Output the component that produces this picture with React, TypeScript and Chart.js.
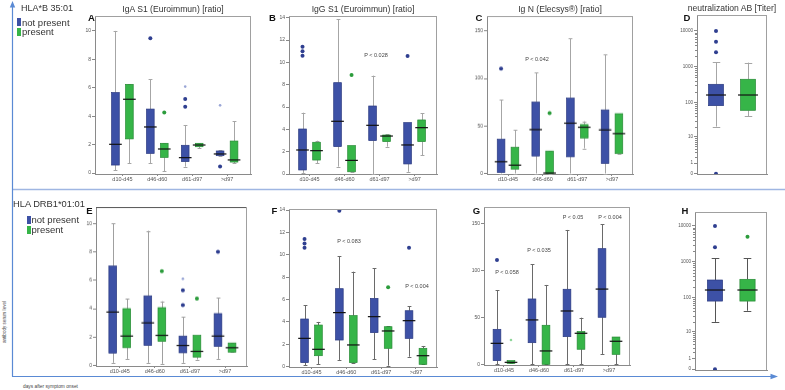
import React, { useEffect, useRef } from 'react';
import { Chart, registerables } from 'chart.js';
Chart.register(...registerables);

const FONT = '"Liberation Sans", Arial, sans-serif';
const categories = ['d10-d45', 'd46-d60', 'd61-d97', '>d97'];
const ticks10 = [0, 2, 4, 6, 8, 10];
const ticks14 = [0, 2, 4, 6, 8, 10, 12, 14];
const ticks150 = [0, 50, 100, 150];
const ticksLog = [0, 1, 10, 100, 1000, 10000];

// box stats per category: [lower whisker, Q1, median, Q3, upper whisker]
// ---- HLA*B 35:01 ----
const igaB35Absent = [[0.2, 0.56, 2.02, 5.66, 10.0], [0.68, 1.38, 3.24, 4.5, 6.6], [0.45, 0.8, 1.08, 1.95, 3.38], [1.22, 1.22, 1.34, 1.55, 1.6]];
const igaB35AbsentOut = [[], [9.48], [5.2, 4.67], [0.45]];
const igaB35AbsentExt = [[], [], [6.08], [4.76]];
const igaB35Present = [[0.68, 2.4, 5.19, 6.24, 6.24], [0.14, 1.1, 1.69, 2.09, 2.09], [1.75, 1.85, 1.97, 2.09, 2.1], [0.68, 0.77, 0.92, 2.25, 3.66]];
const igaB35PresentOut = [[], [4.25], [], []];

const iggB35Absent = [[0.1, 0.36, 2.15, 4.03, 5.49], [0.66, 2.45, 4.72, 8.18, 13.85], [0, 2.99, 4.36, 6.09, 8.81], [0.2, 0.9, 2.6, 4.6, 4.6]];
const iggB35AbsentOut = [[11.4, 11.0, 10.6], [], [], [10.57]];
const iggB35Present = [[0.96, 1.25, 2.09, 2.84, 2.98], [0.2, 0.2, 1.22, 2.54, 2.54], [2.45, 2.9, 3.4, 3.49, 3.58], [1.7, 2.9, 4.15, 4.84, 5.43]];
const iggB35PresentOut = [[], [8.87], [], []];

const ignB35Absent = [[0, 1, 12.4, 36, 77.6], [0, 18.4, 46.2, 75.2, 106], [0, 17.6, 53, 79.4, 142], [0, 10.6, 45.9, 67, 125.6]];
const ignB35AbsentOut = [[110.5], [], [], []];
const ignB35Present = [[0, 4.6, 8.8, 27.5, 45.9], [0, 0, 0.5, 23.6, 23.6], [26.5, 37.4, 48.7, 51.5, 55], [21, 21, 42, 63, 63]];
const ignB35PresentOut = [[], [63.5], [], []];

const neutB35Absent = [[20, 80, 160, 320, 1320]];
const neutB35AbsentOut = [[10000, 5000, 2520, 0]];
const neutB35Present = [[40, 59, 160, 443, 1300]];
const neutB35PresentOut = [[]];

// ---- HLA DRB1*01:01 ----
const igaDrAbsent = [[0.19, 0.87, 3.76, 7.0, 10.0], [0.19, 1.41, 3.0, 4.9, 9.48], [0.19, 0.89, 1.41, 2.07, 3.41], [0.47, 1.34, 2.07, 3.65, 4.75]];
const igaDrAbsentOut = [[], [], [5.3, 4.24], [8.0]];
const igaDrAbsentExt = [[], [], [6.1], []];
const igaDrPresent = [[0.47, 1.25, 2.07, 4.0, 4.7], [0.12, 1.69, 2.12, 4.07, 4.52], [0.42, 0.59, 0.99, 2.12, 2.12], [0.94, 0.94, 1.25, 1.58, 1.58]];
const igaDrPresentOut = [[], [6.63], [4.7], []];

const iggDrAbsent = [[0.15, 0.36, 2.53, 4.26, 5.5], [0.6, 2.38, 4.83, 6.97, 9.89], [0.66, 3.04, 4.47, 6.1, 8.79], [0.89, 2.53, 4.11, 5.0, 5.42]];
const iggDrAbsentOut = [[11.4, 11.0, 10.63], [13.94], [], [10.63]];
const iggDrPresent = [[0.24, 0.98, 1.55, 3.72, 4.0], [0.3, 0.36, 1.94, 4.56, 8.49], [0.09, 1.64, 3.19, 3.57, 3.6], [0.21, 0.21, 0.98, 1.64, 1.85]];
const iggDrPresentOut = [[], [], [7.09], []];

const ignDrAbsent = [[0, 3.9, 22.3, 37.2, 79], [0, 23, 47.2, 69.5, 106.4], [0, 29.4, 56.7, 79.8, 142.9], [11, 50, 80, 123, 149]];
const ignDrAbsentOut = [[111], [], [], []];
const ignDrPresent = [[1, 1, 2.1, 3.9, 3.9], [0, 0, 14.2, 41.5, 84.4], [0, 16, 33, 34.8, 49.6], [0, 10.6, 24.5, 29, 29]];
const ignDrPresentExt = [[25.9], [], [], []];

const neutDrAbsent = [[20, 79, 162, 309, 1250]];
const neutDrAbsentOut = [[10000, 2535, 0]];
const neutDrPresent = [[42, 79, 162, 323, 1250]];
const neutDrPresentOut = [[5000]];

const BLUE = '#3d51a6';
const GREEN = '#36b548';
const blueGroup = (stats, out, ext = []) => ({ stats, out, ext, color: BLUE, edge: '#2b3a80', dot: '#2f3f90', light: '#9aa6d6' });
const greenGroup = (stats, out, ext = []) => ({ stats, out, ext, color: GREEN, edge: '#278a35', dot: '#2c9c3c', light: '#8fd69a' });

const WY = 26, PT = 8, PR = 12;

const panels = [
  { id: 'A', L: 95, R: 251, T: 16, B: 174, xmin: 0.214, xmax: 4.686, ymin: -0.07, ymax: 11.05, ticks: ticks10, log: false, single: false, hx: 10, whisker: '#a6a6a6', groups: [blueGroup(igaB35Absent, igaB35AbsentOut, igaB35AbsentExt), greenGroup(igaB35Present, igaB35PresentOut)] },
  { id: 'B', L: 289, R: 437, T: 16, B: 174, xmin: 0.414, xmax: 4.64, ymin: 0, ymax: 14.15, ticks: ticks14, log: false, single: false, hx: 10, whisker: '#a6a6a6', groups: [blueGroup(iggB35Absent, iggB35AbsentOut), greenGroup(iggB35Present, iggB35PresentOut)] },
  { id: 'C', L: 487, R: 633, T: 16, B: 173.5, xmin: 0.394, xmax: 4.606, ymin: -0.5, ymax: 165.8, ticks: ticks150, log: false, single: false, hx: 10, whisker: '#a6a6a6', groups: [blueGroup(ignB35Absent, ignB35AbsentOut), greenGroup(ignB35Present, ignB35PresentOut)] },
  { id: 'D', L: 697, R: 767, T: 15, B: 174, xmin: 0.406, xmax: 2.594, ymin: -0.006, ymax: 4.448, ticks: ticksLog, log: true, single: true, hx: 4, whisker: '#a6a6a6', groups: [blueGroup(neutB35Absent, neutB35AbsentOut), greenGroup(neutB35Present, neutB35PresentOut)] },
  { id: 'E', L: 96, R: 247, T: 207, B: 365.5, xmin: 0.323, xmax: 4.627, ymin: -0.035, ymax: 11.15, ticks: ticks10, log: false, single: false, hx: 10, whisker: '#a0a0a0', groups: [blueGroup(igaDrAbsent, igaDrAbsentOut, igaDrAbsentExt), greenGroup(igaDrPresent, igaDrPresentOut)] },
  { id: 'F', L: 289, R: 437, T: 209, B: 367, xmin: 0.354, xmax: 4.603, ymin: -0.03, ymax: 14.09, ticks: ticks14, log: false, single: false, hx: 10, whisker: '#6a6a6a', groups: [blueGroup(iggDrAbsent, iggDrAbsentOut), greenGroup(iggDrPresent, iggDrPresentOut)] },
  { id: 'G', L: 484, R: 630, T: 207, B: 365, xmin: 0.429, xmax: 4.6, ymin: -0.74, ymax: 167.3, ticks: ticks150, log: false, single: false, hx: 10, whisker: '#6a6a6a', groups: [blueGroup(ignDrAbsent, [[111], [], [], []]), greenGroup(ignDrPresent, [[], [], [], []], ignDrPresentExt)] },
  { id: 'H', L: 695, R: 767, T: 212, B: 370, xmin: 0.385, xmax: 2.6, ymin: -0.022, ymax: 4.391, ticks: ticksLog, log: true, single: true, hx: 4, whisker: '#555555', groups: [blueGroup(neutDrAbsent, neutDrAbsentOut), greenGroup(neutDrPresent, neutDrPresentOut)] },
];

function BoxPanel({ p }) {
  const ref = useRef(null);
  const width = p.R - p.L + WY + PR;
  const height = p.B - p.T + PT + p.hx;
  useEffect(() => {
    const f = p.log ? (v) => Math.log10(v + 1) : (v) => v;
    const halfW = p.single ? 0.234 : 0.11;
    const posOf = (gi, ci) => (p.single ? gi + 1 : ci + 1 + (gi === 0 ? -0.2 : 0.2));
    const datasets = [];
    p.groups.forEach((g, gi) => {
      const pts = [];
      const ext = [];
      g.out.forEach((arr, ci) => arr.forEach((v) => pts.push({ x: posOf(gi, ci), y: f(v) })));
      g.ext.forEach((arr, ci) => arr.forEach((v) => ext.push({ x: posOf(gi, ci), y: f(v) })));
      datasets.push({ data: pts, pointRadius: 2, pointHoverRadius: 2, backgroundColor: g.dot, borderWidth: 0 });
      datasets.push({ data: ext, pointRadius: 1.3, pointHoverRadius: 1.3, backgroundColor: g.light, borderWidth: 0 });
    });
    const plugin = {
      id: 'boxplot' + p.id,
      beforeDatasetsDraw(chart) {
        const { ctx, scales } = chart;
        const x = scales.x, y = scales.y;
        ctx.save();
        p.groups.forEach((g, gi) => g.stats.forEach((s, ci) => {
          const cx = x.getPixelForValue(posOf(gi, ci));
          const hw = x.getPixelForValue(posOf(gi, ci) + halfW) - cx;
          const [lo, q1, md, q3, hi] = s.map((v) => y.getPixelForValue(f(v)));
          const X = Math.round(cx) + 0.5;
          ctx.strokeStyle = p.whisker;
          ctx.lineWidth = 1;
          ctx.beginPath();
          ctx.moveTo(X, lo); ctx.lineTo(X, q1);
          ctx.moveTo(X, q3); ctx.lineTo(X, hi);
          ctx.moveTo(X - hw * 0.5, Math.round(lo) + 0.5); ctx.lineTo(X + hw * 0.5, Math.round(lo) + 0.5);
          ctx.moveTo(X - hw * 0.5, Math.round(hi) + 0.5); ctx.lineTo(X + hw * 0.5, Math.round(hi) + 0.5);
          ctx.stroke();
          ctx.fillStyle = g.color;
          ctx.fillRect(cx - hw, q3, 2 * hw, Math.max(q1 - q3, 1));
          ctx.strokeStyle = g.edge;
          ctx.lineWidth = 0.7;
          ctx.strokeRect(cx - hw, q3, 2 * hw, Math.max(q1 - q3, 1));
          ctx.strokeStyle = '#111';
          ctx.lineWidth = 1.2;
          ctx.beginPath();
          ctx.moveTo(cx - hw - 2.5, md); ctx.lineTo(cx + hw + 2.5, md);
          ctx.stroke();
        }));
        ctx.restore();
      },
      afterDraw(chart) {
        const { ctx, chartArea: a, scales } = chart;
        ctx.save();
        ctx.lineWidth = 1;
        ctx.strokeStyle = p.id === 'E' ? '#555' : '#a0a0a0';
        ctx.beginPath();
        ctx.moveTo(a.left, Math.round(a.top) + 0.5);
        ctx.lineTo(a.right, Math.round(a.top) + 0.5);
        ctx.stroke();
        ctx.strokeStyle = '#a0a0a0';
        ctx.beginPath();
        ctx.moveTo(Math.round(a.right) - 0.5, a.top);
        ctx.lineTo(Math.round(a.right) - 0.5, a.bottom);
        ctx.stroke();
        if (p.log) {
          ctx.strokeStyle = '#888';
          ctx.beginPath();
          for (let d = 0; d < 4; d++) {
            for (let k = 2; k < 10; k++) {
              const yy = Math.round(scales.y.getPixelForValue(f(k * Math.pow(10, d)))) + 0.5;
              ctx.moveTo(a.left - 2, yy);
              ctx.lineTo(a.left, yy);
            }
          }
          ctx.stroke();
        }
        ctx.restore();
      },
    };
    const chart = new Chart(ref.current, {
      type: 'scatter',
      data: { datasets },
      options: {
        animation: false,
        responsive: false,
        devicePixelRatio: 1,
        events: [],
        layout: { padding: { top: PT, right: PR, left: 0, bottom: 0 } },
        plugins: { legend: { display: false }, tooltip: { enabled: false } },
        scales: {
          x: {
            type: 'linear',
            min: p.xmin,
            max: p.xmax,
            afterBuildTicks: (s) => { s.ticks = p.single ? [] : categories.map((_, i) => ({ value: i + 1 })); },
            afterFit: (s) => { s.height = p.hx; },
            ticks: {
              display: !p.single,
              autoSkip: false,
              maxRotation: 0,
              padding: 0,
              color: '#555',
              font: { size: 5.5, family: FONT },
              callback: (v) => categories[Math.round(v) - 1] ?? '',
            },
            grid: { display: !p.single, drawOnChartArea: false, tickLength: 2, color: '#888' },
            border: { display: true, color: '#8a8a8a' },
          },
          y: {
            type: 'linear',
            min: p.ymin,
            max: p.ymax,
            afterBuildTicks: (s) => { s.ticks = p.ticks.map((v) => ({ value: f(v) })); },
            afterFit: (s) => { s.width = WY; },
            ticks: {
              autoSkip: false,
              padding: 1,
              color: '#555',
              font: { size: p.log ? 4.6 : 5, family: FONT },
              callback: (v, i) => String(p.ticks[i]),
            },
            grid: { drawOnChartArea: false, tickLength: 3, color: '#888' },
            border: { display: true, color: '#8a8a8a' },
          },
        },
      },
      plugins: [plugin],
    });
    return () => chart.destroy();
  }, []);
  return (
    <canvas
      ref={ref}
      width={width}
      height={height}
      style={{ position: 'absolute', left: p.L - WY, top: p.T - PT, width, height }}
    />
  );
}

function T({ x, y, size, children, align = 'center', bold = false, color = '#333', rotate = 0 }) {
  const tx = align === 'center' ? '-50%' : '0';
  return (
    <div
      style={{
        position: 'absolute',
        left: x,
        top: y,
        transform: `translate(${tx}, -50%)` + (rotate ? ` rotate(${rotate}deg)` : ''),
        fontSize: size,
        lineHeight: 1,
        whiteSpace: 'nowrap',
        fontWeight: bold ? 'bold' : 'normal',
        color,
        fontFamily: FONT,
      }}
    >
      {children}
    </div>
  );
}

const titles = [
  { text: 'IgA S1 (Euroimmun) [ratio]', x: 173, y: 9 },
  { text: 'IgG S1 (Euroimmun) [ratio]', x: 363, y: 9 },
  { text: 'Ig N (Elecsys®) [ratio]', x: 560, y: 9 },
  { text: 'neutralization AB [Titer]', x: 732, y: 8 },
];
const letters = [
  { t: 'A', x: 91.5, y: 18 }, { t: 'B', x: 272.5, y: 18 }, { t: 'C', x: 479, y: 18 }, { t: 'D', x: 687, y: 18 },
  { t: 'E', x: 89.5, y: 211 }, { t: 'F', x: 274.5, y: 211 }, { t: 'G', x: 476.5, y: 211 }, { t: 'H', x: 685, y: 211 },
];
const pvalues = [
  { t: 'P < 0.028', x: 376, y: 56 },
  { t: 'P < 0.042', x: 537, y: 60 },
  { t: 'P < 0.083', x: 349, y: 242 },
  { t: 'P < 0.004', x: 417, y: 287 },
  { t: 'P < 0.058', x: 507, y: 273 },
  { t: 'P < 0.035', x: 539, y: 251 },
  { t: 'P < 0.05', x: 573, y: 218 },
  { t: 'P < 0.004', x: 610, y: 218 },
];

export default function App() {
  return (
    <div style={{ position: 'fixed', left: 0, top: 0, width: 785, height: 390, background: '#fff', overflow: 'hidden' }}>
      <svg width={785} height={390} style={{ position: 'absolute', left: 0, top: 0 }}>
        <line x1={12} y1={189.5} x2={785} y2={189.5} stroke="#9fb6e2" strokeWidth={1.5} />
        <line x1={12.5} y1={376.5} x2={12.5} y2={6} stroke="#5a8ad4" strokeWidth={1.2} />
        <polygon points="12.5,1 9.8,7.5 15.2,7.5" fill="#5a8ad4" />
        <line x1={12} y1={376.5} x2={771} y2={376.5} stroke="#5a8ad4" strokeWidth={1.2} />
        <polygon points="778,376.5 770.5,373.8 770.5,379.2" fill="#5a8ad4" />
      </svg>
      {panels.map((p) => <BoxPanel key={p.id} p={p} />)}
      {titles.map((t) => <T key={t.text} x={t.x} y={t.y} size={8.6}>{t.text}</T>)}
      {letters.map((l) => <T key={l.t} x={l.x} y={l.y} size={9.5} bold color="#111">{l.t}</T>)}
      {pvalues.map((pv, i) => <T key={i} x={pv.x} y={pv.y} size={5.5} color="#444">{pv.t}</T>)}

      <T x={21} y={8} size={9} align="left">HLA*B 35:01</T>
      <div style={{ position: 'absolute', left: 17, top: 18, width: 4, height: 8, background: BLUE }} />
      <T x={22} y={22.5} size={9.5} align="left">not present</T>
      <div style={{ position: 'absolute', left: 17, top: 28, width: 4, height: 8, background: GREEN }} />
      <T x={22} y={32} size={9.5} align="left">present</T>

      <T x={13} y={205} size={9.3} align="left">HLA DRB1*01:01</T>
      <div style={{ position: 'absolute', left: 27, top: 216, width: 4, height: 8, background: BLUE }} />
      <T x={31.5} y={220} size={9.5} align="left">not present</T>
      <div style={{ position: 'absolute', left: 27, top: 226, width: 4, height: 8, background: GREEN }} />
      <T x={31.5} y={230} size={9.5} align="left">present</T>

      <T x={5} y={322} size={4.6} rotate={-90} color="#444">antibody serum level</T>
      <T x={23} y={387} size={4.8} align="left" color="#444">days after symptom onset</T>
    </div>
  );
}
